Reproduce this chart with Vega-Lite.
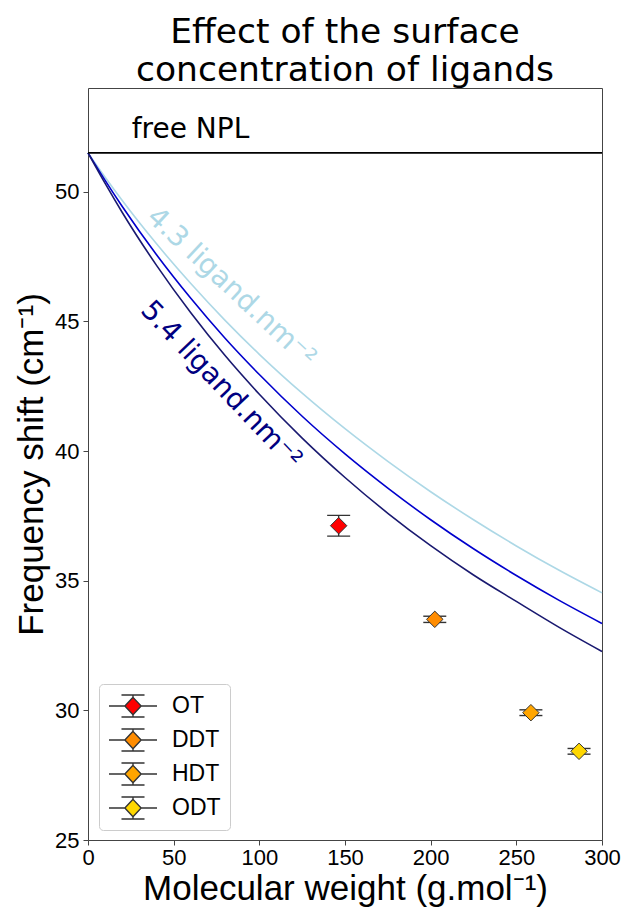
{
  "$schema": "https://vega.github.io/schema/vega-lite/v6.json",
  "width": 514,
  "height": 752,
  "autosize": {"type": "none"},
  "padding": {"left": 88, "top": 88, "right": 21, "bottom": 71},
  "background": "white",
  "title": {
    "text": ["Effect of the surface\u00a0", "\u00a0concentration of ligands"],
    "font": "DejaVu Sans",
    "fontSize": 34.5,
    "fontWeight": "normal",
    "color": "black",
    "lineHeight": 38,
    "anchor": "middle",
    "frame": "group",
    "offset": 0
  },
  "config": {
    "view": {"stroke": "#444", "strokeWidth": 1},
    "axis": {
      "grid": false,
      "domain": false,
      "labelFlush": false,
      "tickColor": "#444",
      "tickSize": 5,
      "tickWidth": 1,
      "labelFont": "Liberation Sans",
      "labelFontSize": 22,
      "labelColor": "black",
      "titleFont": "Liberation Sans",
      "titleFontSize": 35,
      "titleFontWeight": "normal",
      "titleColor": "black"
    }
  },
  "datasets": {
    "curves": [
      {"mw": 0, "shift": 51.5, "curve": "low"},
      {"mw": 10, "shift": 50.56, "curve": "low"},
      {"mw": 20, "shift": 49.66, "curve": "low"},
      {"mw": 40, "shift": 47.99, "curve": "low"},
      {"mw": 60, "shift": 46.46, "curve": "low"},
      {"mw": 80, "shift": 45.04, "curve": "low"},
      {"mw": 100, "shift": 43.73, "curve": "low"},
      {"mw": 125, "shift": 42.23, "curve": "low"},
      {"mw": 150, "shift": 40.86, "curve": "low"},
      {"mw": 175, "shift": 39.6, "curve": "low"},
      {"mw": 200, "shift": 38.43, "curve": "low"},
      {"mw": 225, "shift": 37.35, "curve": "low"},
      {"mw": 250, "shift": 36.34, "curve": "low"},
      {"mw": 275, "shift": 35.4, "curve": "low"},
      {"mw": 300, "shift": 34.53, "curve": "low"},
      {"mw": 0, "shift": 51.5, "curve": "mid"},
      {"mw": 10, "shift": 50.44, "curve": "mid"},
      {"mw": 20, "shift": 49.43, "curve": "mid"},
      {"mw": 40, "shift": 47.57, "curve": "mid"},
      {"mw": 60, "shift": 45.89, "curve": "mid"},
      {"mw": 80, "shift": 44.35, "curve": "mid"},
      {"mw": 100, "shift": 42.95, "curve": "mid"},
      {"mw": 125, "shift": 41.34, "curve": "mid"},
      {"mw": 150, "shift": 39.89, "curve": "mid"},
      {"mw": 175, "shift": 38.57, "curve": "mid"},
      {"mw": 200, "shift": 37.35, "curve": "mid"},
      {"mw": 225, "shift": 36.23, "curve": "mid"},
      {"mw": 250, "shift": 35.2, "curve": "mid"},
      {"mw": 275, "shift": 34.24, "curve": "mid"},
      {"mw": 300, "shift": 33.35, "curve": "mid"},
      {"mw": 0, "shift": 51.5, "curve": "high"},
      {"mw": 10, "shift": 50.32, "curve": "high"},
      {"mw": 20, "shift": 49.2, "curve": "high"},
      {"mw": 40, "shift": 47.16, "curve": "high"},
      {"mw": 60, "shift": 45.33, "curve": "high"},
      {"mw": 80, "shift": 43.68, "curve": "high"},
      {"mw": 100, "shift": 42.19, "curve": "high"},
      {"mw": 125, "shift": 40.5, "curve": "high"},
      {"mw": 150, "shift": 38.98, "curve": "high"},
      {"mw": 175, "shift": 37.6, "curve": "high"},
      {"mw": 200, "shift": 36.35, "curve": "high"},
      {"mw": 225, "shift": 35.22, "curve": "high"},
      {"mw": 250, "shift": 34.2, "curve": "high"},
      {"mw": 275, "shift": 33.2, "curve": "high"},
      {"mw": 300, "shift": 32.27, "curve": "high"}
    ],
    "ligands": [
      {"ligand": "OT", "mw": 146.3, "shift": 37.12, "lo": 36.72, "hi": 37.52},
      {"ligand": "DDT", "mw": 202.4, "shift": 33.51, "lo": 33.39, "hi": 33.63},
      {"ligand": "HDT", "mw": 258.5, "shift": 29.91, "lo": 29.8, "hi": 30.02},
      {"ligand": "ODT", "mw": 286.6, "shift": 28.42, "lo": 28.31, "hi": 28.53}
    ]
  },
  "layer": [
    {
      "data": {"name": "curves"},
      "mark": {"type": "line", "strokeWidth": 1.6, "interpolate": "monotone"},
      "encoding": {
        "x": {
          "field": "mw",
          "type": "quantitative",
          "scale": {"domain": [0, 300], "nice": false},
          "axis": {"values": [0, 50, 100, 150, 200, 250, 300], "title": "Molecular weight (g.mol\u207b\u00b9)", "labelPadding": 2, "titlePadding": 3}
        },
        "y": {
          "field": "shift",
          "type": "quantitative",
          "scale": {"domain": [25, 54], "nice": false, "zero": false},
          "axis": {"values": [25, 30, 35, 40, 45, 50], "title": "Frequency shift (cm\u207b\u00b9)", "labelPadding": 4, "titlePadding": 5}
        },
        "stroke": {
          "field": "curve",
          "type": "nominal",
          "scale": {"domain": ["low", "mid", "high"], "range": ["#add8e6", "#0000cd", "#191970"]},
          "legend": null
        },
        "detail": {"field": "curve"}
      }
    },
    {
      "data": {"values": [{"shift": 51.5}]},
      "mark": {"type": "rule", "color": "black", "strokeWidth": 1.8},
      "encoding": {"y": {"field": "shift", "type": "quantitative"}}
    },
    {
      "data": {"values": [{"mw": 25.5, "shift": 52.09, "label": "free NPL"}]},
      "mark": {"type": "text", "font": "DejaVu Sans", "fontSize": 28, "align": "left", "baseline": "alphabetic", "color": "black"},
      "encoding": {
        "x": {"field": "mw", "type": "quantitative"},
        "y": {"field": "shift", "type": "quantitative"},
        "text": {"field": "label"}
      }
    },
    {
      "data": {"values": [{"mw": 83.5, "shift": 46.29, "label": "4.3 ligand.nm\u207b\u00b2"}]},
      "mark": {"type": "text", "font": "DejaVu Sans", "fontSize": 28, "align": "center", "baseline": "middle", "angle": 43, "color": "#add8e6"},
      "encoding": {
        "x": {"field": "mw", "type": "quantitative"},
        "y": {"field": "shift", "type": "quantitative"},
        "text": {"field": "label"}
      }
    },
    {
      "data": {"values": [{"mw": 77.5, "shift": 42.53, "label": "5.4 ligand.nm\u207b\u00b2"}]},
      "mark": {"type": "text", "font": "DejaVu Sans", "fontSize": 28, "align": "center", "baseline": "middle", "angle": 46.5, "color": "#000080"},
      "encoding": {
        "x": {"field": "mw", "type": "quantitative"},
        "y": {"field": "shift", "type": "quantitative"},
        "text": {"field": "label"}
      }
    },
    {
      "data": {"name": "ligands"},
      "mark": {"type": "rule", "color": "#333", "strokeWidth": 1.4},
      "encoding": {
        "x": {"field": "mw", "type": "quantitative"},
        "y": {"field": "lo", "type": "quantitative"},
        "y2": {"field": "hi"}
      }
    },
    {
      "data": {"name": "ligands"},
      "mark": {"type": "tick", "orient": "horizontal", "size": 23, "thickness": 1.4, "color": "#333", "opacity": 1},
      "encoding": {
        "x": {"field": "mw", "type": "quantitative"},
        "y": {"field": "lo", "type": "quantitative"}
      }
    },
    {
      "data": {"name": "ligands"},
      "mark": {"type": "tick", "orient": "horizontal", "size": 23, "thickness": 1.4, "color": "#333", "opacity": 1},
      "encoding": {
        "x": {"field": "mw", "type": "quantitative"},
        "y": {"field": "hi", "type": "quantitative"}
      }
    },
    {
      "data": {"name": "ligands"},
      "mark": {"type": "point", "shape": "diamond", "filled": true, "size": 270, "stroke": "#333", "strokeWidth": 1, "opacity": 1},
      "encoding": {
        "x": {"field": "mw", "type": "quantitative"},
        "y": {"field": "shift", "type": "quantitative"},
        "fill": {
          "field": "ligand",
          "type": "nominal",
          "scale": {"domain": ["OT", "DDT", "HDT", "ODT"], "range": ["#ff0000", "#ff8c00", "#ffa500", "#ffd700"]},
          "legend": {
            "title": null,
            "orient": "none",
            "legendX": 11,
            "legendY": 596,
            "symbolType": "M-1,0L-0.34,0M0.34,0L1,0M0,-0.46L0,-0.36M0,0.36L0,0.46M-0.48,-0.46L0.48,-0.46M-0.48,0.46L0.48,0.46M0,-0.36L0.34,0L0,0.36L-0.34,0Z",
            "symbolSize": 2304,
            "symbolStrokeColor": "#333",
            "symbolStrokeWidth": 1.4,
            "symbolOpacity": 1,
            "labelFont": "Liberation Sans",
            "labelFontSize": 23,
            "labelColor": "black",
            "labelOffset": 14,
            "clipHeight": 26,
            "rowPadding": 8,
            "padding": 9,
            "strokeColor": "#cccccc",
            "fillColor": "rgba(255,255,255,0.8)",
            "cornerRadius": 4
          }
        }
      }
    }
  ]
}
